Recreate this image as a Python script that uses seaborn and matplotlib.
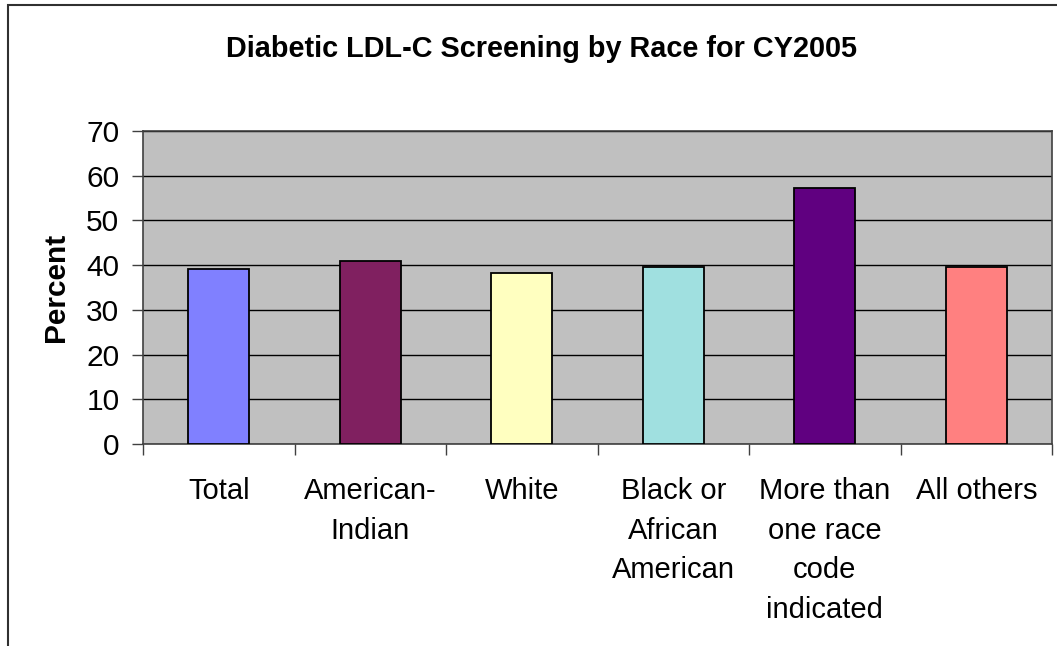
import matplotlib
matplotlib.use("Agg")
import matplotlib.pyplot as plt
import matplotlib.patches as mpatches
from matplotlib.ticker import FixedLocator
import seaborn as sns
import pandas as pd

categories = ["Total", "American-\nIndian", "White", "Black or\nAfrican\nAmerican",
              "More than\none race\ncode\nindicated", "All others"]
percent = [39.1, 40.9, 38.2, 39.5, 57.3, 39.5]
bar_colors = ["#8080FF", "#802060", "#FFFFC0", "#A0E0E0", "#600080", "#FF8080"]

sns.set_theme(style="white")
plt.rcParams["font.family"] = ["Liberation Sans", "DejaVu Sans"]
plt.rcParams["text.color"] = "black"
plt.rcParams["axes.labelcolor"] = "black"
plt.rcParams["xtick.color"] = "black"
plt.rcParams["ytick.color"] = "black"

df = pd.DataFrame({"race": categories, "percent": percent})

fig = plt.figure(figsize=(10.57, 6.46), dpi=100)
ax = fig.add_axes([143 / 1057, 1 - 444 / 646, 909 / 1057, 313 / 646])

sns.barplot(data=df, x="race", y="percent", hue="race", palette=bar_colors,
            saturation=1, width=0.4, edgecolor="black", linewidth=1.3,
            legend=False, ax=ax, zorder=3)

ax.set_facecolor("#C0C0C0")
ax.set_ylim(0, 70)
ax.set_xlim(-0.5, len(categories) - 0.5)
ax.set_yticks(range(0, 71, 10))
ax.yaxis.grid(True, color="black", linewidth=1, zorder=0)
ax.set_axisbelow(True)
for side in ["left", "right", "top", "bottom"]:
    ax.spines[side].set_color("#404040")
    ax.spines[side].set_linewidth(1.2)

ax.tick_params(axis="y", which="major", direction="out", length=8, width=1,
               color="#404040", labelsize=21.5, pad=9, left=True)
ax.tick_params(axis="x", which="major", length=0, labelsize=21, pad=24)
ax.xaxis.set_minor_locator(FixedLocator([i + 0.5 for i in range(-1, len(categories))]))
ax.tick_params(axis="x", which="minor", direction="out", length=8, width=1,
               color="#404040", bottom=True)
for lbl in ax.get_xticklabels():
    lbl.set_linespacing(1.52)
    lbl.set_va("top")

ax.set_xlabel("")
ax.set_ylabel("Percent", fontsize=21.5, fontweight="bold", labelpad=12)

fig.text(0.512, 1 - 49 / 646, "Diabetic LDL-C Screening by Race for CY2005",
         ha="center", va="center", fontsize=20.8, fontweight="bold")

fig.patches.append(mpatches.Rectangle((8 / 1057, -0.1), 1.2, 1.1 - 5 / 646,
                                      transform=fig.transFigure, fill=False,
                                      edgecolor="#303030", linewidth=1.5))

fig.savefig("out.png", dpi=100)
